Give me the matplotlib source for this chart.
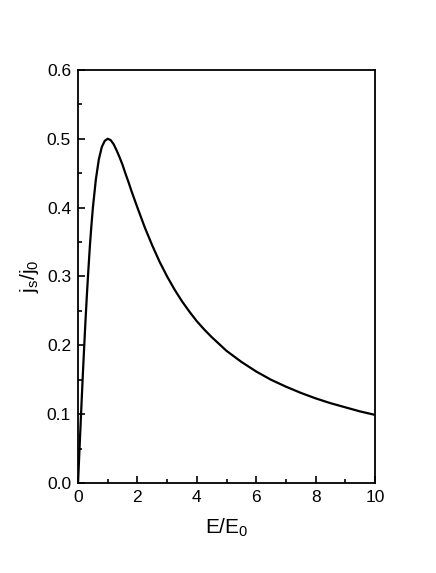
import matplotlib
matplotlib.use("Agg")
import matplotlib.pyplot as plt
from matplotlib.ticker import MultipleLocator

plt.rcParams["font.family"] = ["Liberation Sans", "DejaVu Sans"]
plt.rcParams["mathtext.fontset"] = "custom"
plt.rcParams["mathtext.rm"] = "Liberation Sans"

# values
e_ratio = [0, 0.05, 0.1, 0.15, 0.2, 0.25, 0.3, 0.35, 0.4, 0.45, 0.5, 0.6, 0.7,
           0.8, 0.9, 1.0, 1.1, 1.2, 1.3, 1.4, 1.5, 1.6, 1.7, 1.8, 1.9,
           2.0, 2.25, 2.5, 2.75, 3.0, 3.25, 3.5, 3.75, 4.0, 4.25, 4.5, 4.75,
           5.0, 5.5, 6.0, 6.5, 7.0, 7.5, 8.0, 8.5, 9.0, 9.5, 10.0]
j_ratio = [0, 0.050, 0.099, 0.147, 0.192, 0.235, 0.275, 0.311, 0.345, 0.374,
           0.400, 0.441, 0.470, 0.488, 0.497, 0.500, 0.498, 0.492, 0.483,
           0.473, 0.462, 0.449, 0.437, 0.424, 0.412,
           0.400, 0.371, 0.345, 0.321, 0.300, 0.281, 0.264, 0.249, 0.235,
           0.223, 0.212, 0.202, 0.192, 0.176, 0.162, 0.150, 0.140, 0.131,
           0.123, 0.116, 0.110, 0.104, 0.099]

fig = plt.figure(figsize=(4.36, 5.73), dpi=100)
ax = fig.add_axes([0.179, 0.157, 0.681, 0.721])

ax.plot(e_ratio, j_ratio, color="black", lw=1.6)

ax.set_xlim(0, 10)
ax.set_ylim(0, 0.6)
ax.xaxis.set_major_locator(MultipleLocator(2))
ax.xaxis.set_minor_locator(MultipleLocator(1))
ax.yaxis.set_major_locator(MultipleLocator(0.1))
ax.yaxis.set_minor_locator(MultipleLocator(0.05))
ax.yaxis.set_major_formatter(plt.FormatStrFormatter("%.1f"))
ax.tick_params(which="both", direction="in", labelsize=12.5, width=1.2)
ax.tick_params(which="major", length=5, pad=5)
ax.tick_params(which="minor", length=3)
for s in ax.spines.values():
    s.set_linewidth(1.3)

ax.set_xlabel("E/E$_\\mathregular{0}$", fontsize=15, labelpad=8)
ax.set_ylabel("j$_\\mathregular{s}$/j$_\\mathregular{0}$", fontsize=15, labelpad=4)

fig.savefig("out.png", dpi=100)
